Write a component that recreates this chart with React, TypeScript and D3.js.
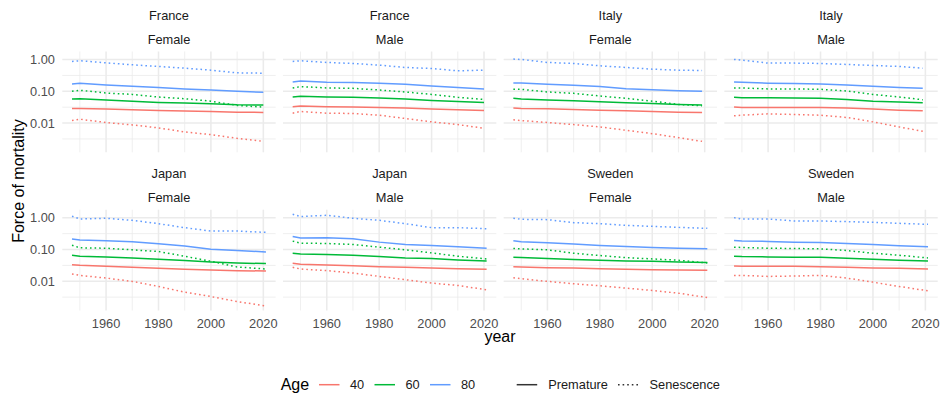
import React from "react";
import * as d3 from "d3";

// ---- data ----
const SEXES = ["Female", "Male"];
const AGES = ["40", "60", "80"];
const AGE_COLORS = ["#F8766D", "#00BA38", "#619CFF"];
const TYPES = ["Premature", "Senescence"];
const X_TICKS = [1960, 1980, 2000, 2020];
const X_MINOR = [1950, 1970, 1990, 2010];
const Y_TICKS = [1, 0.1, 0.01];
const Y_TICK_LABELS = ["1.00", "0.10", "0.01"];
const Y_MINOR = [0.316, 0.0316, 0.00316];

const franceYears = [1947, 1950, 1960, 1970, 1980, 1990, 2000, 2010, 2020];
const italyYears = [1947, 1950, 1960, 1970, 1980, 1990, 2000, 2010, 2019];
const japanYears = [1947, 1950, 1960, 1970, 1980, 1990, 2000, 2010, 2021];
const swedenYears = [1947, 1950, 1960, 1970, 1980, 1990, 2000, 2010, 2021];

const franceFemale = {
  prem40: [0.0289, 0.0289, 0.0275, 0.0262, 0.0249, 0.0238, 0.0232, 0.0221, 0.0216],
  prem60: [0.057, 0.0585, 0.053, 0.049, 0.0448, 0.0426, 0.0406, 0.0377, 0.0368],
  prem80: [0.171, 0.18, 0.159, 0.144, 0.131, 0.119, 0.11, 0.1, 0.093],
  sen40: [0.012, 0.0132, 0.0104, 0.00875, 0.00703, 0.00525, 0.00432, 0.0033, 0.00265],
  sen60: [0.1, 0.108, 0.0885, 0.08, 0.066, 0.0585, 0.049, 0.036, 0.0318],
  sen80: [0.875, 0.92, 0.79, 0.686, 0.607, 0.537, 0.464, 0.382, 0.373],
};
const franceMale = {
  prem40: [0.0326, 0.0342, 0.0326, 0.0318, 0.031, 0.0296, 0.0275, 0.0262, 0.0249],
  prem60: [0.066, 0.0694, 0.066, 0.0645, 0.0614, 0.057, 0.0518, 0.0482, 0.0448],
  prem80: [0.198, 0.213, 0.193, 0.188, 0.18, 0.167, 0.148, 0.131, 0.119],
  sen40: [0.0205, 0.0232, 0.0205, 0.02, 0.0177, 0.0139, 0.0109, 0.00896, 0.00686],
  sen60: [0.128, 0.141, 0.128, 0.124, 0.11, 0.0953, 0.08, 0.0645, 0.0557],
  sen80: [0.875, 0.918, 0.813, 0.755, 0.669, 0.564, 0.525, 0.442, 0.464],
};
const italyFemale = {
  prem40: [0.0296, 0.0289, 0.0282, 0.0268, 0.0255, 0.0243, 0.0232, 0.0221, 0.0216],
  prem60: [0.06, 0.057, 0.053, 0.0506, 0.047, 0.0437, 0.0416, 0.0387, 0.0368],
  prem80: [0.184, 0.184, 0.167, 0.155, 0.141, 0.1216, 0.113, 0.105, 0.1],
  sen40: [0.0126, 0.012, 0.0104, 0.00896, 0.00755, 0.00592, 0.00464, 0.00347, 0.00265],
  sen60: [0.1157, 0.1157, 0.0953, 0.0865, 0.0711, 0.06, 0.049, 0.0387, 0.0351],
  sen80: [1.037, 1.01, 0.813, 0.755, 0.637, 0.564, 0.499, 0.464, 0.453],
};
const italyMale = {
  prem40: [0.0318, 0.031, 0.031, 0.031, 0.031, 0.0296, 0.0275, 0.0255, 0.0243],
  prem60: [0.0645, 0.0629, 0.0629, 0.0614, 0.06, 0.0557, 0.049, 0.0459, 0.0437],
  prem80: [0.198, 0.193, 0.18, 0.175, 0.171, 0.159, 0.144, 0.131, 0.1245],
  sen40: [0.0169, 0.0177, 0.0195, 0.0186, 0.0177, 0.015, 0.0109, 0.00755, 0.0055],
  sen60: [0.128, 0.128, 0.119, 0.119, 0.1157, 0.1025, 0.08, 0.066, 0.0543],
  sen80: [1.01, 0.964, 0.774, 0.774, 0.755, 0.703, 0.653, 0.607, 0.537],
};
const japanFemale = {
  prem40: [0.0334, 0.0318, 0.0296, 0.0275, 0.0255, 0.0238, 0.0226, 0.0216, 0.021],
  prem60: [0.066, 0.0614, 0.0585, 0.0543, 0.0493, 0.0448, 0.0406, 0.0377, 0.036],
  prem80: [0.213, 0.198, 0.188, 0.175, 0.151, 0.128, 0.1025, 0.093, 0.0843],
  sen40: [0.0169, 0.0153, 0.0126, 0.0099, 0.00686, 0.00453, 0.0033, 0.00229, 0.00167],
  sen60: [0.137, 0.113, 0.11, 0.0976, 0.0865, 0.0614, 0.0426, 0.0282, 0.0243],
  sen80: [1.116, 0.918, 0.964, 0.833, 0.653, 0.488, 0.382, 0.382, 0.347],
};
const japanMale = {
  prem40: [0.0368, 0.0342, 0.0326, 0.031, 0.0289, 0.0275, 0.0262, 0.025, 0.0238],
  prem60: [0.0765, 0.0728, 0.0694, 0.066, 0.06, 0.0543, 0.0518, 0.047, 0.0437],
  prem80: [0.259, 0.229, 0.235, 0.218, 0.171, 0.144, 0.134, 0.1216, 0.11],
  sen40: [0.0275, 0.0243, 0.0216, 0.0182, 0.0142, 0.0112, 0.00875, 0.00738, 0.00537],
  sen60: [0.184, 0.159, 0.155, 0.144, 0.119, 0.0976, 0.0784, 0.0614, 0.0506],
  sen80: [1.29, 1.089, 1.2, 0.964, 0.833, 0.653, 0.488, 0.488, 0.453],
};
const swedenFemale = {
  prem40: [0.0289, 0.0282, 0.0268, 0.0262, 0.025, 0.0238, 0.0232, 0.0226, 0.0221],
  prem60: [0.0571, 0.0557, 0.0518, 0.0482, 0.0459, 0.0437, 0.0426, 0.0406, 0.0387],
  prem80: [0.188, 0.175, 0.163, 0.148, 0.134, 0.1245, 0.1157, 0.11, 0.105],
  sen40: [0.0129, 0.012, 0.0099, 0.00833, 0.0072, 0.00607, 0.00512, 0.00421, 0.00307],
  sen60: [0.1076, 0.105, 0.0976, 0.0765, 0.0645, 0.0557, 0.0506, 0.0459, 0.0377],
  sen80: [0.964, 0.896, 0.875, 0.703, 0.653, 0.578, 0.537, 0.499, 0.464],
};
const swedenMale = {
  prem40: [0.0303, 0.0296, 0.0296, 0.0296, 0.0289, 0.0275, 0.0262, 0.0255, 0.0243],
  prem60: [0.0614, 0.06, 0.0585, 0.0571, 0.0571, 0.0531, 0.0493, 0.0459, 0.0437],
  prem80: [0.193, 0.184, 0.18, 0.171, 0.167, 0.155, 0.144, 0.131, 0.1216],
  sen40: [0.0153, 0.0153, 0.0142, 0.0146, 0.0153, 0.0126, 0.0094, 0.00686, 0.005],
  sen60: [0.1186, 0.116, 0.11, 0.1076, 0.105, 0.093, 0.0765, 0.066, 0.0543],
  sen80: [1.012, 0.918, 0.918, 0.793, 0.793, 0.756, 0.72, 0.669, 0.622],
};

const PANELS = [
  { country: "France", sex: SEXES[0], years: franceYears, data: franceFemale },
  { country: "France", sex: SEXES[1], years: franceYears, data: franceMale },
  { country: "Italy", sex: SEXES[0], years: italyYears, data: italyFemale },
  { country: "Italy", sex: SEXES[1], years: italyYears, data: italyMale },
  { country: "Japan", sex: SEXES[0], years: japanYears, data: japanFemale },
  { country: "Japan", sex: SEXES[1], years: japanYears, data: japanMale },
  { country: "Sweden", sex: SEXES[0], years: swedenYears, data: swedenFemale },
  { country: "Sweden", sex: SEXES[1], years: swedenYears, data: swedenMale },
];

const SERIES_KEYS = [
  { key: "prem40", age: 0, type: 0 },
  { key: "prem60", age: 1, type: 0 },
  { key: "prem80", age: 2, type: 0 },
  { key: "sen40", age: 0, type: 1 },
  { key: "sen60", age: 1, type: 1 },
  { key: "sen80", age: 2, type: 1 },
];

// ---- layout ----
const W = 945;
const H = 398;
const FONT = "'Liberation Sans', Arial, Helvetica, sans-serif";
const LEFT = 62.3;
const PANEL_W = 213.35;
const GAP = 7.33;
const ROW_TOPS = [51.5, 209.7];
const PANEL_H = 100.8;
const LINE_W = 1.5;
const DASH = "1.6 3";
const SMALL = 12.8;
const BIG = 16;

export default function App() {
  const allYears = PANELS.flatMap((p) => p.years);
  const allVals = PANELS.flatMap((p) => SERIES_KEYS.flatMap((s) => p.data[s.key]));
  const [x0, x1] = d3.extent(allYears) as [number, number];
  const xPad = (x1 - x0) * 0.05;
  const x = d3.scaleLinear().domain([x0 - xPad, x1 + xPad]).range([0, PANEL_W]);
  const [v0, v1] = d3.extent(allVals) as [number, number];
  const l0 = Math.log10(v0);
  const l1 = Math.log10(v1);
  const lPad = (l1 - l0) * 0.05;
  const y = d3
    .scaleLog()
    .domain([Math.pow(10, l0 - lPad), Math.pow(10, l1 + lPad)])
    .range([PANEL_H, 0]);

  const line = d3
    .line<[number, number]>()
    .x((d) => x(d[0]))
    .y((d) => y(d[1]));

  const plotCenterX = LEFT + (4 * PANEL_W + 3 * GAP) / 2;

  return (
    <svg
      width={W}
      height={H}
      viewBox={`0 0 ${W} ${H}`}
      style={{ position: "absolute", left: 0, top: 0, background: "#fff" }}
      fontFamily={FONT}
    >
      <rect width={W} height={H} fill="#fff" />
      {PANELS.map((p, i) => {
        const col = i % 4;
        const row = Math.floor(i / 4);
        const px = LEFT + col * (PANEL_W + GAP);
        const py = ROW_TOPS[row];
        return (
          <g key={i} transform={`translate(${px},${py})`}>
            {/* strips */}
            <text x={PANEL_W / 2} y={20 - 51.5} textAnchor="middle" fontSize={SMALL} fill="#1a1a1a">
              {p.country}
            </text>
            <text x={PANEL_W / 2} y={44 - 51.5} textAnchor="middle" fontSize={SMALL} fill="#1a1a1a">
              {p.sex}
            </text>
            {/* grid */}
            {Y_MINOR.map((v) => (
              <line key={"ym" + v} x1={0} x2={PANEL_W} y1={y(v)} y2={y(v)} stroke="#EBEBEB" strokeWidth={0.78} />
            ))}
            {X_MINOR.map((v) => (
              <line key={"xm" + v} x1={x(v)} x2={x(v)} y1={0} y2={PANEL_H} stroke="#EBEBEB" strokeWidth={0.78} />
            ))}
            {Y_TICKS.map((v) => (
              <line key={"y" + v} x1={0} x2={PANEL_W} y1={y(v)} y2={y(v)} stroke="#EBEBEB" strokeWidth={1.55} />
            ))}
            {X_TICKS.map((v) => (
              <line key={"x" + v} x1={x(v)} x2={x(v)} y1={0} y2={PANEL_H} stroke="#EBEBEB" strokeWidth={1.55} />
            ))}
            {/* data lines */}
            {SERIES_KEYS.map((s) => {
              const pts = p.years.map((yr, k) => [yr, p.data[s.key][k]] as [number, number]);
              return (
                <path
                  key={s.key}
                  d={line(pts) || ""}
                  fill="none"
                  stroke={AGE_COLORS[s.age]}
                  strokeWidth={LINE_W}
                  strokeDasharray={s.type === 1 ? DASH : undefined}
                />
              );
            })}
            {/* y axis labels */}
            {col === 0 &&
              Y_TICKS.map((v, k) => (
                <text key={"yl" + v} x={55 - px} y={y(v) + 4.5} textAnchor="end" fontSize={SMALL} fill="#4d4d4d">
                  {Y_TICK_LABELS[k]}
                </text>
              ))}
            {/* x axis labels */}
            {row === 1 &&
              X_TICKS.map((v) => (
                <text key={"xl" + v} x={x(v)} y={328 - py} textAnchor="middle" fontSize={SMALL} fill="#4d4d4d">
                  {v}
                </text>
              ))}
          </g>
        );
      })}
      {/* axis titles */}
      <text x={plotCenterX} y={342} textAnchor="middle" fontSize={BIG} fill="#000">
        year
      </text>
      <text
        transform={`translate(24,${(ROW_TOPS[0] + ROW_TOPS[1] + PANEL_H) / 2}) rotate(-90)`}
        textAnchor="middle"
        fontSize={BIG}
        fill="#000"
      >
        Force of mortality
      </text>
      {/* legend */}
      <g>
        <text x={280.7} y={389.5} fontSize={BIG} fill="#000">
          Age
        </text>
        {AGES.map((a, k) => {
          const kx = [319, 374.5, 430][k];
          return (
            <g key={a}>
              <line x1={kx} x2={kx + 20.5} y1={384.7} y2={384.7} stroke={AGE_COLORS[k]} strokeWidth={LINE_W} />
              <text x={kx + 31} y={389.3} fontSize={SMALL} fill="#1a1a1a">
                {a}
              </text>
            </g>
          );
        })}
        {TYPES.map((t, k) => {
          const kx = [516.7, 618][k];
          return (
            <g key={t}>
              <line
                x1={kx}
                x2={kx + 20.5}
                y1={384.7}
                y2={384.7}
                stroke="#333"
                strokeWidth={LINE_W}
                strokeDasharray={k === 1 ? DASH : undefined}
              />
              <text x={kx + 31.5} y={389.3} fontSize={SMALL} fill="#1a1a1a">
                {t}
              </text>
            </g>
          );
        })}
      </g>
    </svg>
  );
}
